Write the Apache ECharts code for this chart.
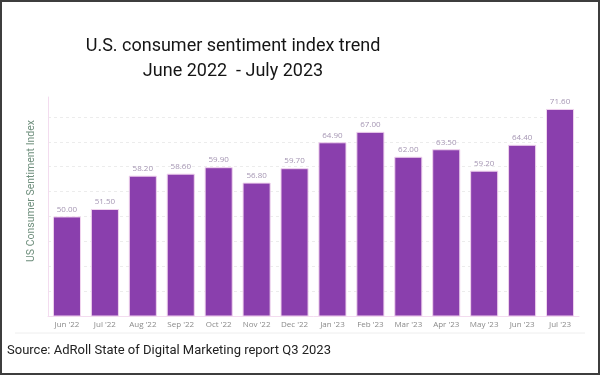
<!DOCTYPE html>
<html>
<head>
<meta charset="utf-8">
<script src="https://cdn.jsdelivr.net/npm/echarts@6/dist/echarts.min.js"></script>
<style>
    html, body {margin: 0; padding: 0; background: #fff;}
    #chart {width: 600px; height: 375px;}
    #frame {position: absolute; left: 0; top: 0; width: 600px; height: 375px; box-sizing: border-box; border: 2px solid #3d3d3d; pointer-events: none;}
</style>
</head>
<body>
<div id="chart"></div>
<div id="frame"></div>
<script>
// months shown on the x axis
const months = ["Jun '22", "Jul '22", "Aug '22", "Sep '22", "Oct '22", "Nov '22", "Dec '22",
    "Jan '23", "Feb '23", "Mar '23", "Apr '23", "May '23", "Jun '23", "Jul '23"];
// index values, as labelled on the bars
const sentiment = [50.0, 51.5, 58.2, 58.6, 59.9, 56.8, 59.7, 64.9, 67.0, 62.0, 63.5, 59.2, 64.4, 71.6];

const titleLines = ['U.S. consumer sentiment index trend', 'June 2022  - July 2023'];
const yAxisTitle = 'US Consumer Sentiment Index';
const sourceNote = 'Source: AdRoll State of Digital Marketing report Q3 2023';

let chart = echarts.init(document.getElementById('chart'));

let option = {
    animation: false,
    grid: {left: 48, right: 21, top: 97, bottom: 59},
    graphic: [
        {
            type: 'text', x: 233, y: 34,
            style: {
                text: titleLines.join('\n'), align: 'center', lineHeight: 25,
                font: '18px Roboto', fill: '#151515'
            }
        },
        {
            // axis title sits a bit above the plot middle in the original
            type: 'text', x: 31, y: 191, rotation: Math.PI / 2,
            style: {
                text: yAxisTitle, align: 'center', verticalAlign: 'middle',
                font: '10.5px Roboto', fill: '#6f8f7d'
            }
        },
        {
            type: 'text', x: 7, y: 344,
            style: {text: sourceNote, font: '13px Roboto', fill: '#222'}
        },
        {
            type: 'line', shape: {x1: 15, y1: 333, x2: 585, y2: 333},
            style: {stroke: '#eeeeee', lineWidth: 1}
        }
    ],
    xAxis: {
        type: 'category',
        data: months,
        axisLine: {lineStyle: {color: '#f3dcef'}},
        axisTick: {show: false},
        axisLabel: {fontSize: 8, color: '#8a8a8a', fontFamily: 'Open Sans', margin: 5}
    },
    yAxis: {
        type: 'value',
        min: 30,
        max: 74,
        interval: 5,
        axisLine: {show: true, lineStyle: {color: '#f3dcef'}},
        axisTick: {show: false},
        axisLabel: {show: false},
        splitLine: {
            showMinLine: false,
            showMaxLine: false,
            lineStyle: {color: '#ececec', type: [3, 3]}
        }
    },
    series: [
        {
            type: 'bar',
            data: sentiment,
            barCategoryGap: '26%',
            itemStyle: {color: '#8a3fad', borderColor: '#f0d4ee', borderWidth: 1},
            label: {
                show: true,
                position: 'top',
                distance: 3,
                fontSize: 8,
                fontFamily: 'Open Sans',
                color: '#a596b3',
                formatter: p => p.value.toFixed(2)
            }
        }
    ]
};

chart.setOption(option);
</script>
</body>
</html>
